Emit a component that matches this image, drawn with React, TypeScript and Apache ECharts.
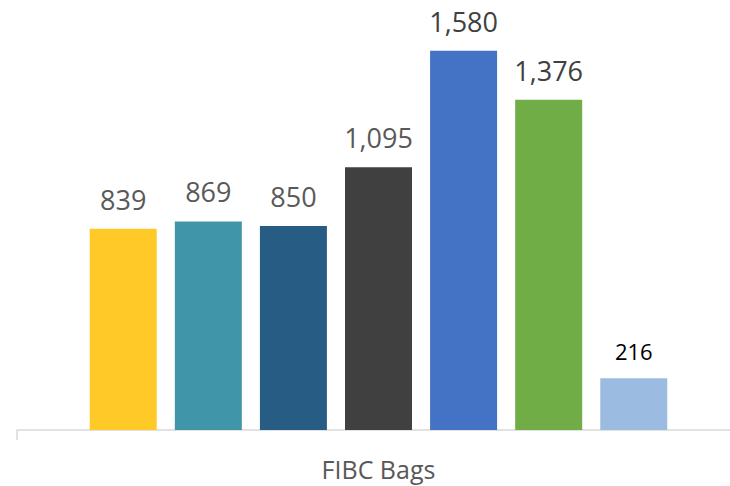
import React, { useEffect, useRef } from "react";
import * as echarts from "echarts";

const categories = ["FIBC Bags"];
const seriesNames = ["Series 1", "Series 2", "Series 3", "Series 4", "Series 5", "Series 6", "Series 7"];
const seriesValues = [839, 869, 850, 1095, 1580, 1376, 216];
const seriesColors = ["#FFC928", "#4095A8", "#275D84", "#404040", "#4472C4", "#70AD47", "#9BBBE0"];
const labelColors = ["#595959", "#595959", "#595959", "#595959", "#404040", "#404040", "#000000"];
const labelSizes = [27, 27, 27, 27, 27, 27, 22];

export default function App() {
  const ref = useRef<HTMLDivElement>(null);
  useEffect(() => {
    if (!ref.current) return;
    const chart = echarts.init(ref.current, undefined, { renderer: "svg" });
    const font = '"Open Sans", "Noto Sans", sans-serif';
    chart.setOption({
      animation: false,
      backgroundColor: "#ffffff",
      grid: { left: 17, right: -10, top: 46, bottom: 56, containLabel: false, outerBoundsMode: "none" },
      xAxis: {
        type: "category",
        data: categories,
        axisLine: { show: true, lineStyle: { color: "#D9D9D9", width: 1.5 } },
        axisTick: { show: true, length: 10, lineStyle: { color: "#D9D9D9", width: 1.5 } },
        axisLabel: { color: "#595959", fontSize: 25, fontFamily: font, margin: 26 },
      },
      yAxis: {
        type: "value",
        min: 0,
        max: 1600,
        show: false,
        splitLine: { show: false },
      },
      series: seriesValues.map((v, i) => ({
        name: seriesNames[i],
        type: "bar",
        data: [v],
        barWidth: 67,
        barGap: "27%",
        itemStyle: { color: seriesColors[i] },
        label: {
          show: true,
          position: "top",
          distance: 16,
          color: labelColors[i],
          fontSize: labelSizes[i],
          fontFamily: font,
          formatter: (p: any) => Number(p.value).toLocaleString("en-US"),
        },
      })),
    });
    return () => chart.dispose();
  }, []);
  return <div ref={ref} style={{ width: 730, height: 486, position: "absolute", left: 0, top: 0 }} />;
}
